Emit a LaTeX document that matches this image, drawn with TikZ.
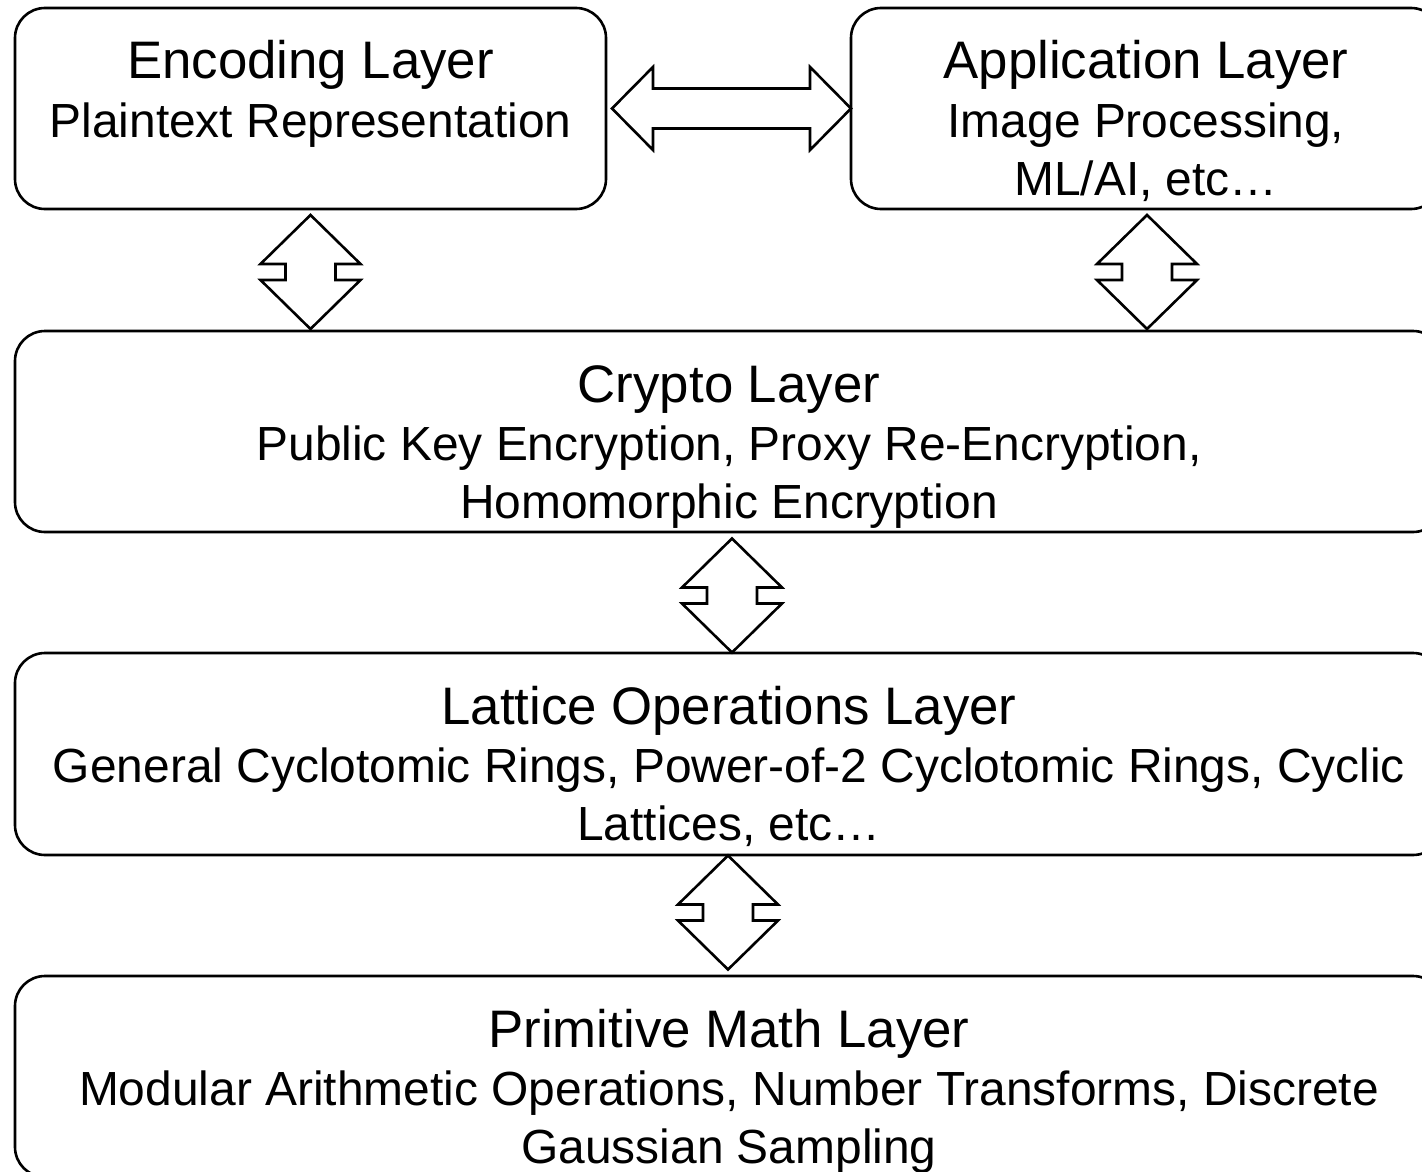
\documentclass[tikz,border=0pt]{standalone}
\usepackage{fontspec}
\setmainfont{Liberation Sans}
\usetikzlibrary{calc}
\tikzset{
  layerbox/.style={draw=black, line width=2.6pt, rounded corners=30pt, fill=white, rectangle, inner sep=0pt},
  titletext/.style={anchor=base, inner sep=0pt, font=\fontsize{52.8}{60}\selectfont},
  subtext/.style={anchor=base, inner sep=0pt, font=\fontsize{47.9}{58}\selectfont},
  blockarrow/.style={draw=black, line width=2.6pt, fill=white, line join=miter}
}
\newcommand\vdarrow[1]{%
  \draw[blockarrow] ($(#1)+(0,-57)$) -- ++(50,49) -- ++(-25,0) -- ++(0,16) -- ++(25,0)
    -- ++(-50,49) -- ++(-50,-49) -- ++(25,0) -- ++(0,-16) -- ++(-25,0) -- cycle;}
\newcommand\hdarrow[1]{%
  \draw[blockarrow] ($(#1)+(-119.5,0)$) -- ++(41,-41.5) -- ++(0,21.5) -- ++(157,0) -- ++(0,-21.5)
    -- ++(41,41.5) -- ++(-41,41.5) -- ++(0,-21.5) -- ++(-157,0) -- ++(0,21.5) -- cycle;}
\begin{document}
\begin{tikzpicture}[x=1pt, y=-1pt]
\useasboundingbox (0,0) rectangle (1422,1172);
\fill[white] (0,0) rectangle (1422,1172);
\clip (0,0) rectangle (1422,1172);

% boxes
\node[layerbox, minimum width=591pt, minimum height=201pt] (enc) at (310.5,108.5) {};
\node[layerbox, minimum width=590pt, minimum height=201pt] (app) at (1146,108.5) {};
\node[layerbox, minimum width=1428pt, minimum height=201pt] (cry) at (729,431.5) {};
\node[layerbox, minimum width=1428pt, minimum height=202pt] (lat) at (729,754) {};
\node[layerbox, minimum width=1428pt, minimum height=201pt] (pri) at (729,1076.5) {};

% texts
\node[titletext] (encT) at (310.5,79) {Encoding Layer};
\node[subtext] (encS) at (310.5,137) {Plaintext Representation};

\node[titletext] (appT) at (1146,79) {Application Layer};
\node[subtext] (appS1) at (1146,137) {Image Processing,};
\node[subtext] (appS2) at (1146,195) {ML/AI, etc…};

\node[titletext] (cryT) at (729,402) {Crypto Layer};
\node[subtext] (cryS1) at (729,460) {Public Key Encryption, Proxy Re-Encryption,};
\node[subtext] (cryS2) at (729,518) {Homomorphic Encryption};

\node[titletext] (latT) at (729,724) {Lattice Operations Layer};
\node[subtext] (latS1) at (729,782) {General Cyclotomic Rings, Power-of-2 Cyclotomic Rings, Cyclic};
\node[subtext] (latS2) at (729,840) {Lattices, etc…};

\node[titletext] (priT) at (729,1047) {Primitive Math Layer};
\node[subtext] (priS1) at (729,1105) {Modular Arithmetic Operations, Number Transforms, Discrete};
\node[subtext] (priS2) at (729,1163) {Gaussian Sampling};

% connectors (block double arrows)
\coordinate (hA) at ($(enc.east)!0.5!(app.west)+(3,0)$);
\hdarrow{hA}
\coordinate (vA) at ($(enc.south)!0.5!(enc.south |- cry.north)+(0,2)$);
\vdarrow{vA}
\coordinate (vB) at ($(app.south)!0.5!(app.south |- cry.north)+(1,2)$);
\vdarrow{vB}
\coordinate (vC) at ($(cry.south)!0.5!(lat.north)+(3,3)$);
\vdarrow{vC}
\coordinate (vD) at ($(lat.south)!0.5!(pri.north)+(-1,-3)$);
\vdarrow{vD}
\end{tikzpicture}
\end{document}
